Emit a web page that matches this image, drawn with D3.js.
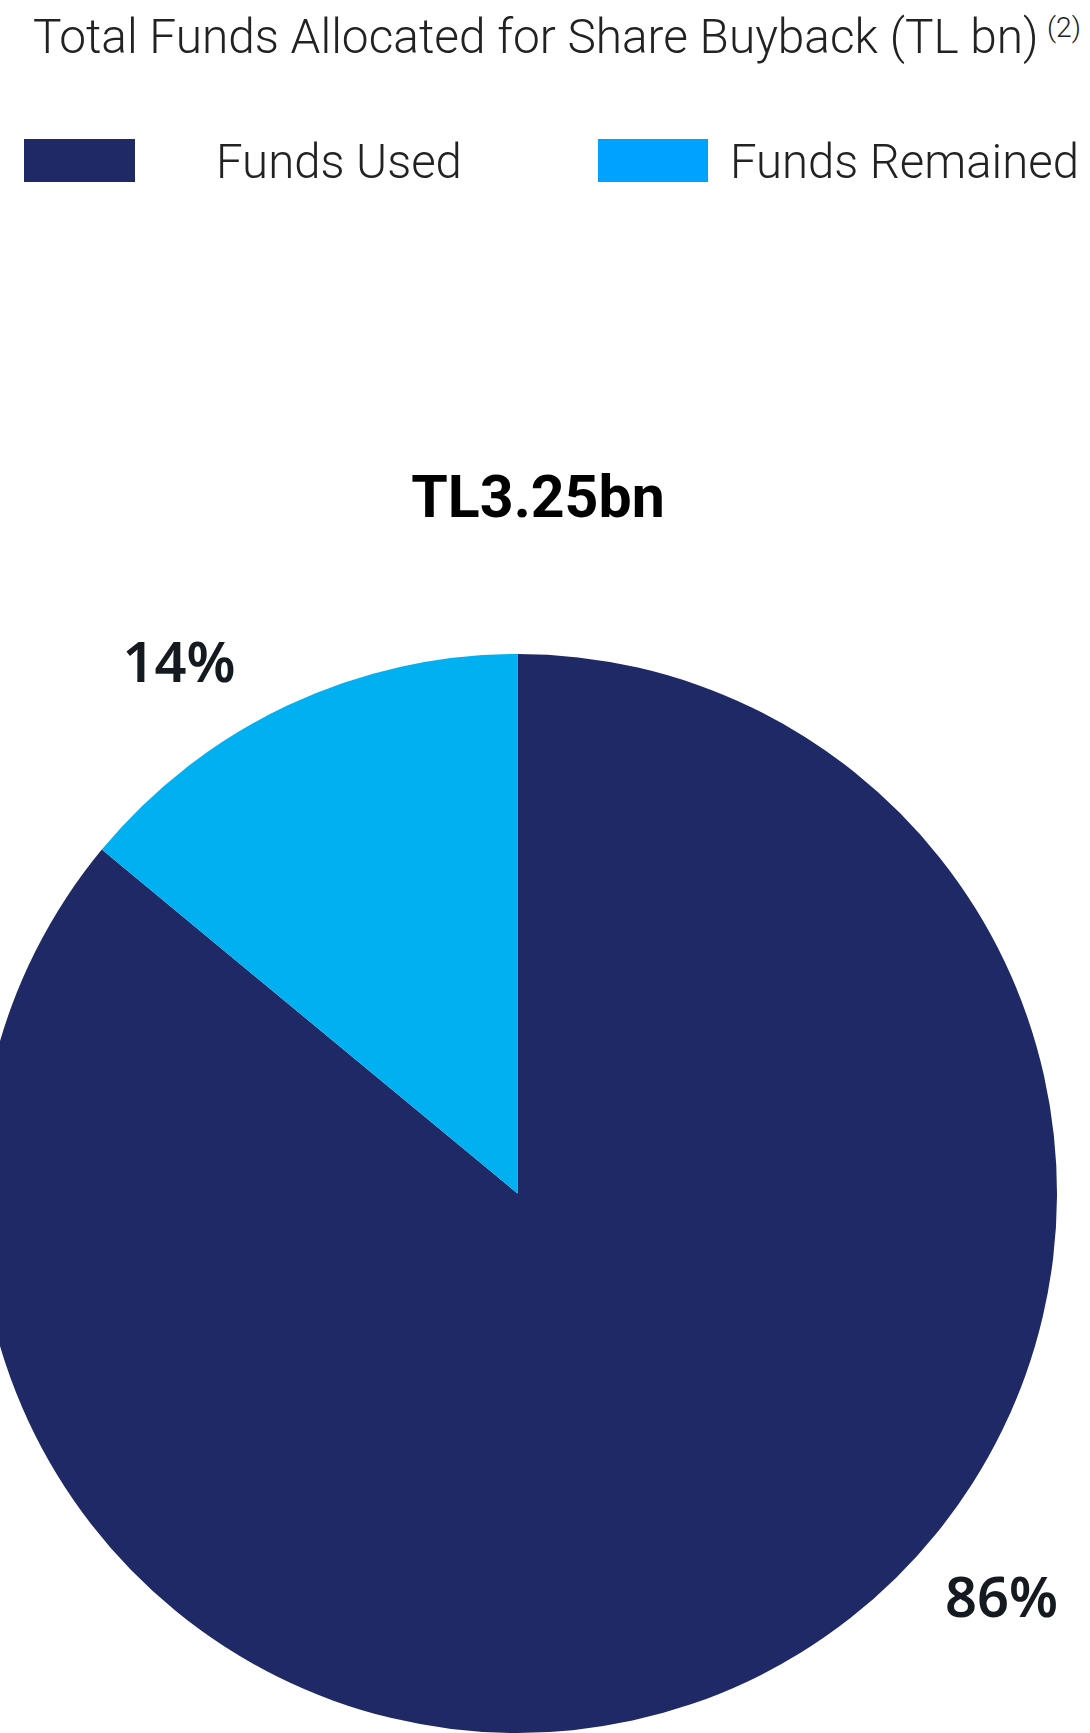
<!DOCTYPE html>
<html>
<head>
<meta charset="utf-8">
<script src="https://cdn.jsdelivr.net/npm/d3@7"></script>
<style>
  html, body { margin: 0; padding: 0; background: #ffffff; }
  svg { display: block; }
</style>
</head>
<body>
<svg id="chart" width="1090" height="1733"></svg>
<script>
// Share buyback fund allocation
const categories = ["Funds Used", "Funds Remained"];
const shares = [86, 14];
const valueLabels = ["86%", "14%"];
const totalLabel = "TL3.25bn";
const titleText = "Total Funds Allocated for Share Buyback (TL bn)";
const titleNote = "(2)";

const pieColors = ["#1e2966", "#00b0f0"];
const legendColors = ["#1e2966", "#00a2ff"];

const W = 1090, H = 1733;
const svg = d3.select("#chart");

// Narrow light text: drawn at full height, then squeezed horizontally to a target width
function narrowText(parent, str, x, y, size, width) {
  const t = parent.append("text")
    .attr("font-family", "Roboto, sans-serif")
    .attr("font-weight", 300)
    .attr("font-size", size)
    .attr("fill", "#222")
    .text(str);
  const natural = t.node().getComputedTextLength();
  t.attr("transform", `translate(${x},${y}) scale(${width / natural},1)`);
  return t;
}

// Title with footnote marker
narrowText(svg, titleText, 33, 53, 49, 1006);
narrowText(svg, titleNote, 1047, 37, 27, 34);

// Legend
const legendLayout = [
  { sx: 24, sw: 111, tx: 216, tw: 246 },
  { sx: 598, sw: 110, tx: 730, tw: 349 }
];
const legend = svg.append("g");
categories.forEach((c, i) => {
  const L = legendLayout[i];
  legend.append("rect")
    .attr("x", L.sx).attr("y", 139)
    .attr("width", L.sw).attr("height", 43)
    .attr("fill", legendColors[i]);
  narrowText(legend, c, L.tx, 178, 49, L.tw);
});

// Pie
const cx = 517.5, cy = 1193.5, R = 539.5;
const pie = d3.pie().sort(null).value(d => d)(shares);
const arc = d3.arc().innerRadius(0).outerRadius(R);

const g = svg.append("g").attr("transform", `translate(${cx},${cy})`);
g.selectAll("path.slice")
  .data(pie)
  .join("path")
  .attr("class", "slice")
  .attr("d", arc)
  .attr("fill", (d, i) => pieColors[i]);

// Total above the pie
svg.append("text")
  .attr("x", 538).attr("y", 517)
  .attr("text-anchor", "middle")
  .attr("font-family", "Roboto, sans-serif")
  .attr("font-weight", 700)
  .attr("font-size", 59)
  .attr("fill", "#000")
  .text(totalLabel);

// Percentage labels placed on an outer ring
const labelRadius = 630;
const labelAngles = [129.8, -32.5]; // degrees, clockwise from top
g.selectAll("text.pct")
  .data(pie)
  .join("text")
  .attr("class", "pct")
  .attr("x", (d, i) => labelRadius * Math.sin(labelAngles[i] * Math.PI / 180))
  .attr("y", (d, i) => -labelRadius * Math.cos(labelAngles[i] * Math.PI / 180))
  .attr("dy", "0.36em")
  .attr("text-anchor", "middle")
  .attr("font-family", "'Noto Sans', sans-serif")
  .attr("font-weight", 600)
  .attr("font-size", 56)
  .attr("fill", "#141a20")
  .text((d, i) => valueLabels[i]);
</script>
</body>
</html>
